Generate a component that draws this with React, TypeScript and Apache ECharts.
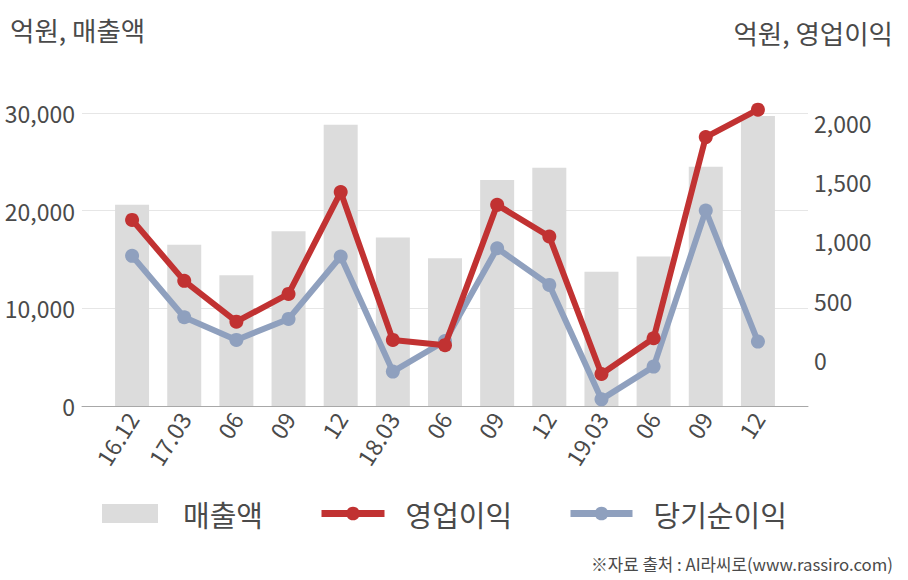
import React, { useEffect, useRef } from "react";
import * as echarts from "echarts";

const categories = ["16.12", "17.03", "06", "09", "12", "18.03", "06", "09", "12", "19.03", "06", "09", "12"];
const revenue = [20600, 16500, 13400, 17900, 28800, 17250, 15130, 23150, 24400, 13750, 15300, 24500, 29700];
const operatingProfit = [1181, 667, 323, 557, 1415, 169, 125, 1308, 1041, -118, 183, 1879, 2110];
const netProfit = [878, 360, 169, 346, 872, -98, 160, 942, 633, -332, -56, 1260, 155];
const leftTicks = [0, 10000, 20000, 30000];
const rightTicks = [0, 500, 1000, 1500, 2000];

const FONT = "'Noto Sans CJK KR', 'Noto Sans', sans-serif";
const TEXT = "#4a4a4a";
const RED = "#c13232";
const BLUE = "#8fa0be";
const BAR = "#dcdcdc";

const fmt = (v: number) => v.toLocaleString("en-US");

export default function App() {
  const ref = useRef<HTMLDivElement>(null);
  useEffect(() => {
    if (!ref.current) return;
    const chart = echarts.init(ref.current, undefined, { renderer: "svg" });
    const rMin = -388;
    const rMax = 2082;
    const legendText = { fontSize: 29, color: TEXT, fontFamily: FONT };
    chart.setOption({
      animation: false,
      textStyle: { fontFamily: FONT },
      title: [
        { text: "억원, 매출액", left: 10, top: 16, padding: 0, textStyle: { fontSize: 26.5, fontWeight: "normal", color: TEXT, fontFamily: FONT } },
        { text: "억원, 영업이익", right: 15, top: 19, padding: 0, textStyle: { fontSize: 26.5, fontWeight: "normal", color: TEXT, fontFamily: FONT } },
        { text: "※자료 출처 : AI라씨로(www.rassiro.com)", right: 15, top: 556, padding: 0, textStyle: { fontSize: 16.8, fontWeight: "normal", color: TEXT, fontFamily: FONT } },
      ],
      legend: [
        { data: [{ name: "매출액", icon: "rect" }], left: 102, top: 499, padding: 0, itemWidth: 56, itemHeight: 19, textStyle: { ...legendText, padding: [0, 0, 0, 20] } },
        { data: ["영업이익"], left: 318, top: 499, padding: 0, itemWidth: 63, itemHeight: 17, lineStyle: { width: 7 }, textStyle: { ...legendText, padding: [0, 0, 0, 16] } },
        { data: ["당기순이익"], left: 567, top: 499, padding: 0, itemWidth: 62, itemHeight: 17, lineStyle: { width: 7 }, textStyle: { ...legendText, padding: [0, 0, 0, 16] } },
      ],
      grid: [
        { left: 106, right: 124, top: 113, bottom: 174, containLabel: false },
        { left: 82, right: 100, top: 113, bottom: 174, containLabel: false },
      ],
      xAxis: [
        {
          type: "category",
          gridIndex: 0,
          data: categories,
          axisLine: { show: false },
          axisTick: { show: false },
          axisLabel: { rotate: 58, fontSize: 23, color: TEXT, margin: 8, interval: 0, fontFamily: FONT },
        },
        {
          type: "value",
          gridIndex: 1,
          min: 0,
          max: 1,
          axisLine: { show: true, lineStyle: { color: "#a8a8a8", width: 1 } },
          axisTick: { show: false },
          axisLabel: { show: false },
          splitLine: { show: false },
        },
      ],
      yAxis: [
        { type: "value", gridIndex: 0, min: 0, max: 30000, show: false },
        { type: "value", gridIndex: 0, min: rMin, max: rMax, show: false },
        {
          type: "value",
          gridIndex: 1,
          position: "left",
          min: 0,
          max: 30000,
          interval: 10000,
          axisLine: { show: false },
          axisTick: { show: false },
          axisLabel: {
            fontSize: 23,
            color: TEXT,
            margin: 7,
            fontFamily: FONT,
            formatter: (v: number) => (leftTicks.includes(v) ? fmt(v) : ""),
          },
          splitLine: { show: true, lineStyle: { color: "#e6e6e6", width: 1 } },
        },
        {
          type: "value",
          gridIndex: 1,
          position: "right",
          min: rMin,
          max: rMax,
          splitNumber: 5,
          axisLine: { show: false },
          axisTick: { show: false },
          axisLabel: {
            fontSize: 23,
            color: TEXT,
            margin: 6,
            fontFamily: FONT,
            showMinLabel: false,
            showMaxLabel: false,
            formatter: (v: number) => (rightTicks.includes(v) ? fmt(v) : ""),
          },
          splitLine: { show: false },
        },
      ],
      series: [
        {
          name: "매출액",
          type: "bar",
          xAxisIndex: 0,
          yAxisIndex: 0,
          data: revenue,
          barWidth: 34,
          itemStyle: { color: BAR },
        },
        {
          name: "영업이익",
          type: "line",
          xAxisIndex: 0,
          yAxisIndex: 1,
          data: operatingProfit,
          clip: false,
          symbol: "circle",
          symbolSize: 14,
          lineStyle: { color: RED, width: 6 },
          itemStyle: { color: RED },
          z: 4,
        },
        {
          name: "당기순이익",
          type: "line",
          xAxisIndex: 0,
          yAxisIndex: 1,
          data: netProfit,
          clip: false,
          symbol: "circle",
          symbolSize: 14,
          lineStyle: { color: BLUE, width: 6 },
          itemStyle: { color: BLUE },
          z: 3,
        },
      ],
    });
    return () => chart.dispose();
  }, []);
  return (
    <div
      ref={ref}
      style={{ position: "absolute", left: 0, top: 0, width: 908, height: 580, background: "#fff" }}
    />
  );
}
